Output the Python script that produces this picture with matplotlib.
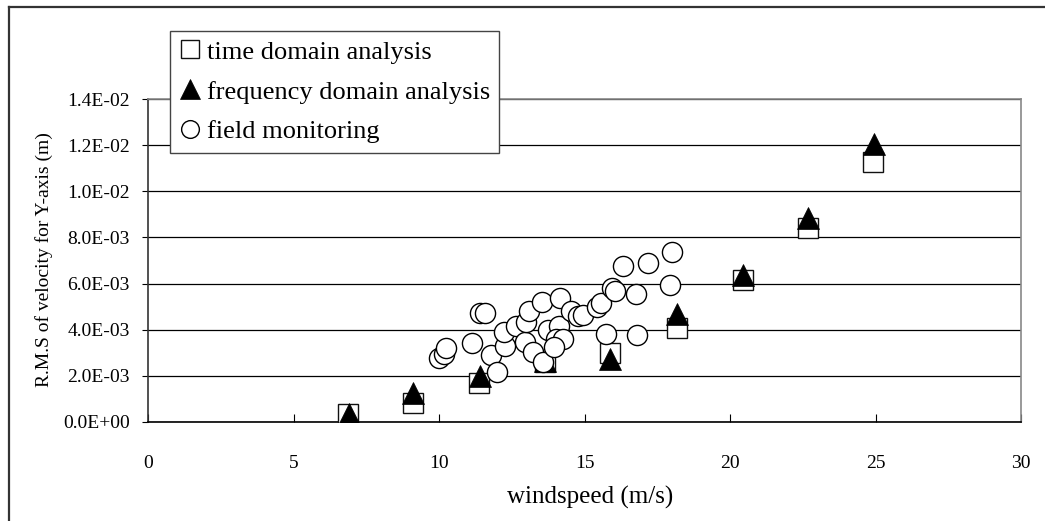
import matplotlib
matplotlib.use("Agg")
import matplotlib.pyplot as plt
from matplotlib.ticker import FuncFormatter, MultipleLocator
from matplotlib.lines import Line2D

# ---- data ----
time_x = [6.89, 9.09, 11.39, 13.63, 15.89, 18.19, 20.44, 22.69, 24.93]
time_y = [3.5e-4, 8.1e-4, 1.68e-3, 2.62e-3, 2.98e-3, 4.07e-3, 6.16e-3, 8.43e-3, 1.125e-2]

freq_x = [6.91, 9.09, 11.40, 13.65, 15.89, 18.19, 20.44, 22.69, 24.95]
freq_y = [3.4e-4, 1.27e-3, 2.00e-3, 2.65e-3, 2.71e-3, 4.68e-3, 6.35e-3, 8.86e-3, 1.204e-2]

field_x = [10.01, 10.17, 10.24, 11.12, 11.41, 11.58, 11.79, 11.98, 12.27, 12.25,
           12.65, 12.96, 12.98, 13.10, 13.22, 13.53, 13.56, 13.76, 14.12, 14.02,
           14.25, 13.95, 14.16, 14.54, 14.76, 14.95, 15.44, 15.57, 15.95, 16.05,
           16.33, 16.78, 17.19, 18.01, 17.95, 15.74, 16.82]
field_y = [2.76e-3, 2.95e-3, 3.20e-3, 3.42e-3, 4.73e-3, 4.72e-3, 2.89e-3, 2.16e-3, 3.29e-3, 3.88e-3,
           4.15e-3, 3.47e-3, 4.35e-3, 4.79e-3, 3.05e-3, 5.21e-3, 2.62e-3, 3.97e-3, 4.15e-3, 3.60e-3,
           3.60e-3, 3.27e-3, 5.37e-3, 4.79e-3, 4.60e-3, 4.62e-3, 5.00e-3, 5.14e-3, 5.82e-3, 5.66e-3,
           6.74e-3, 5.53e-3, 6.87e-3, 7.39e-3, 5.95e-3, 3.81e-3, 3.79e-3]

labels = ["time domain analysis", "frequency domain analysis", "field monitoring"]
x_ticks = [0, 5, 10, 15, 20, 25, 30]

# ---- figure ----
plt.rcParams['font.family'] = ['Liberation Serif', 'DejaVu Serif']
W, H = 1045, 521
fig = plt.figure(figsize=(W / 100, H / 100), dpi=100)
L, R, T, B = 148, 1021, 99, 422
ax = fig.add_axes([L / W, 1 - B / H, (R - L) / W, (B - T) / H])

ax.plot(time_x, time_y, linestyle='none', marker='s', markersize=14.5,
        markerfacecolor='white', markeredgecolor='#111111', markeredgewidth=1.0,
        label=labels[0], zorder=3)
ax.plot(freq_x, freq_y, linestyle='none', marker='^', markersize=16,
        markerfacecolor='black', markeredgecolor='black', markeredgewidth=0.5,
        label=labels[1], zorder=4)
ax.plot(field_x, field_y, linestyle='none', marker='o', markersize=14.5,
        markerfacecolor='white', markeredgecolor='black', markeredgewidth=1.0,
        label=labels[2], zorder=5)

ax.set_xlim(0, 30)
ax.set_ylim(0, 0.014)
ax.set_xticks(x_ticks)
ax.yaxis.set_major_locator(MultipleLocator(0.002))
ax.yaxis.set_major_formatter(FuncFormatter(lambda v, p: f"{v:.1E}"))

ax.grid(axis='y', color='black', linewidth=0.9, zorder=1)
ax.set_axisbelow(True)

for s in ['top', 'right']:
    ax.spines[s].set_color('#888888')
    ax.spines[s].set_linewidth(1.2)
ax.spines['left'].set_color('#333333')
ax.spines['left'].set_linewidth(1.2)
ax.spines['bottom'].set_color('black')
ax.spines['bottom'].set_linewidth(1.2)

ax.tick_params(axis='x', direction='in', length=6, width=0.8, pad=24, labelsize=14)
ax.tick_params(axis='y', direction='out', length=4, width=0.8, pad=9, labelsize=14)

ax.set_xlabel("windspeed (m/s)", fontsize=18)
ax.xaxis.set_label_coords((590 - L) / (R - L), (B - 486) / (B - T))
ax.set_ylabel("R.M.S of velocity for Y-axis (m)", fontsize=14)
ax.yaxis.set_label_coords((53 - L) / (R - L), (B - 260) / (B - T))

leg = ax.legend(loc='upper left',
                bbox_to_anchor=((170 - L) / (R - L), (B - 31) / (B - T)),
                fontsize=19, frameon=True, fancybox=False, framealpha=1,
                edgecolor='#444444', borderpad=0.35, handlelength=0.85,
                handletextpad=0.2, labelspacing=0.62, borderaxespad=0,
                markerscale=0.88)
leg.get_frame().set_linewidth(1.0)
leg.set_zorder(10)

# outer chart frame (top and left edges visible)
fig.add_artist(Line2D([9 / W, 1.0], [1 - 7 / H, 1 - 7 / H], color='#333333', linewidth=1.6))
fig.add_artist(Line2D([9 / W, 9 / W], [1 - 7 / H, 0.0], color='#333333', linewidth=1.6))

fig.savefig("out.png", dpi=100)
